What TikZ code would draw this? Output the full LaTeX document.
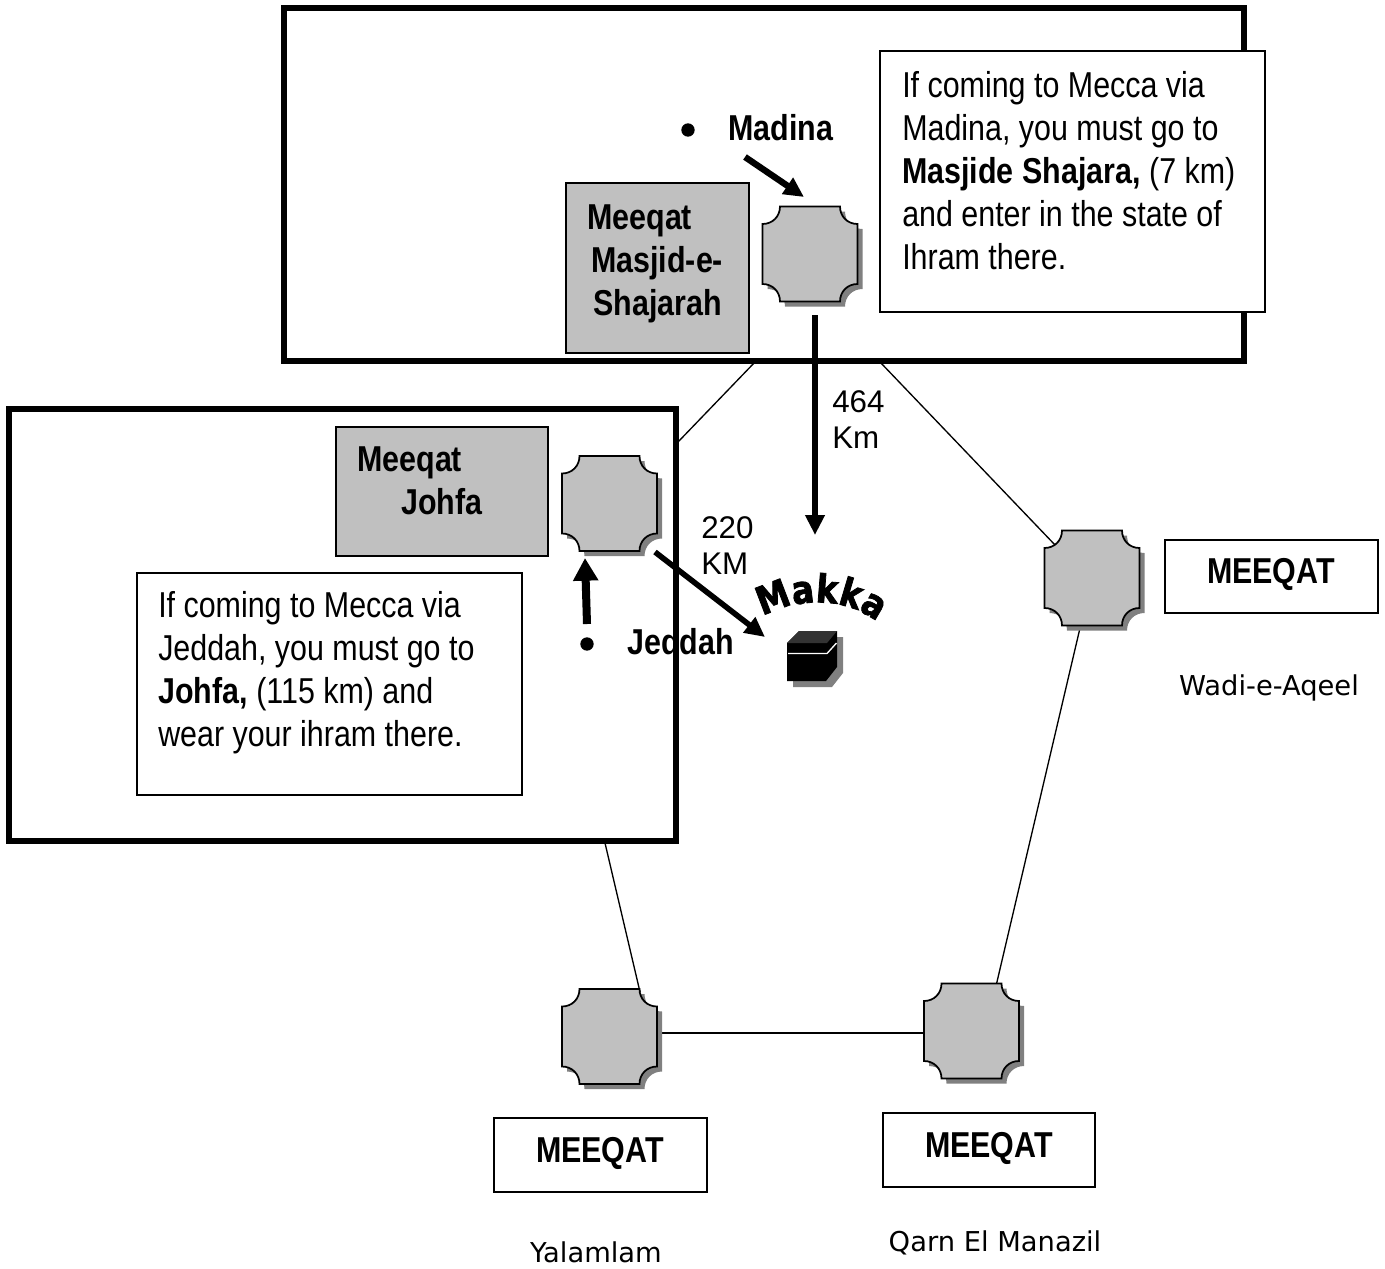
\documentclass[tikz,border=0pt]{standalone}
\usepackage{fontspec}
\setmainfont{Liberation Sans}
\newfontfamily\narrowfont[FakeStretch=0.845]{Liberation Sans}
\newfontfamily\verdfont{DejaVu Sans}
\newfontfamily\makkafont[FakeBold=2,FakeStretch=0.85]{DejaVu Sans Bold}
\usetikzlibrary{arrows.meta,fit,decorations.text}
\definecolor{boxgray}{HTML}{C0C0C0}
\definecolor{shadowgray}{HTML}{808080}
\tikzset{
  x=0.75pt,y=-0.75pt,
  frame/.style={draw=black,line width=4.5pt,inner sep=0pt,sharp corners},
  framefill/.style={fill=white,inner sep=0pt},
  whitebox/.style={draw=black,fill=white,line width=1.1pt,inner sep=0pt},
  graybox/.style={draw=black,fill=boxgray,line width=1.1pt,inner sep=0pt},
  thin connector/.style={draw=black,line width=1pt},
  heavy arrow/.style={draw=black,line width=4.2pt,-{Triangle[length=15pt,width=14pt]}},
  thick arrow/.style={draw=black,line width=6pt,-{Triangle[length=17pt,width=18pt]}},
  big text/.style={font=\narrowfont\fontsize{27}{32.25}\selectfont,align=left,inner sep=0pt,text=black},
  bold label/.style={font=\narrowfont\bfseries\fontsize{27}{32.25}\selectfont,align=left,inner sep=0pt,text=black},
  km text/.style={font=\fontsize{23.5}{27}\selectfont,align=left,inner sep=0pt,text=black},
  place text/.style={font=\verdfont\fontsize{20.5}{24}\selectfont,inner sep=0pt,text=black},
  dot/.style={circle,fill=black,inner sep=0pt,minimum size=10pt},
}
\newcommand{\pxbox}[6]{%
  \coordinate (#1-a) at (#3,#4);\coordinate (#1-b) at (#5,#6);
  \node[#2,fit=(#1-a)(#1-b)] (#1) {};}
\newcommand{\plaque}[3]{%
  \begin{scope}[shift={(#2,#3)}]
    \def\plaquepath{(-47.5,-30) .. controls (-37.5,-30) and (-30,-37.5) .. (-30,-47.5)
      -- (30,-47.5) .. controls (30,-37.5) and (37.5,-30) .. (47.5,-30)
      -- (47.5,30) .. controls (37.5,30) and (30,37.5) .. (30,47.5)
      -- (-30,47.5) .. controls (-30,37.5) and (-37.5,30) .. (-47.5,30) -- cycle}
    \fill[shadowgray,shift={(5,5)}] \plaquepath;
    \draw[fill=boxgray,line width=1.3pt] \plaquepath;
    \node[circle,inner sep=0pt,minimum size=71.25pt] (#1) at (0,0) {};
  \end{scope}}
\begin{document}
\begin{tikzpicture}
\useasboundingbox (0,0) rectangle (1385,1268);
% ends of the connectors
\coordinate (mL) at (755,362);
\coordinate (mR) at (880,362);
\coordinate (jT) at (678,442);
\coordinate (jB) at (605,843);
\coordinate (wadiT) at (1056,546);
\coordinate (wadiB) at (1080,628);
\coordinate (qarnT) at (996,986);
\coordinate (yalT) at (640,992);
\coordinate (yalR) at (657,1033);
\coordinate (qarL) at (924,1033);
\draw[thin connector] (mL) -- (jT);
\draw[thin connector] (mR) -- (wadiT);
\draw[thin connector] (wadiB) -- (qarnT);
\draw[thin connector] (jB) -- (yalT);
\draw[thin connector] (yalR) -- (qarL);
% frames: fill
\pxbox{topfill}{framefill}{284}{8}{1244}{361}
\pxbox{leftfill}{framefill}{9}{409}{676}{841}
\node[bold label,anchor=base west] (jeddah) at (627,654) {Jeddah};
% frames: outline
\pxbox{topframe}{frame}{284}{8}{1244}{361}
\pxbox{leftframe}{frame}{9}{409}{676}{841}
% boxes
\pxbox{infotop}{whitebox}{880}{51}{1265}{312}
\pxbox{infoleft}{whitebox}{137}{573}{522}{795}
\pxbox{graymad}{graybox}{566}{183}{749}{353}
\pxbox{grayjoh}{graybox}{336}{427}{548}{556}
\pxbox{mq1}{whitebox}{1165}{540}{1378}{613}
\pxbox{mq2}{whitebox}{494}{1118}{707}{1192}
\pxbox{mq3}{whitebox}{883}{1113}{1095}{1187}
% plaques
\plaque{pmad}{810}{254}
\plaque{pjoh}{609.5}{503.5}
\plaque{pwad}{1092}{578}
\plaque{pqar}{971.5}{1031}
\plaque{pyal}{609.5}{1036.5}
% text
\node[big text,anchor=north west] (t1) at (902,71) {If coming to Mecca via\\Madina, you must go to\\\textbf{Masjide Shajara,} (7 km)\\and enter in the state of\\Ihram there.};
\node[big text,anchor=north west] (t2) at (158,591) {If coming to Mecca via\\Jeddah, you must go to\\\textbf{Johfa,} (115 km) and\\wear your ihram there.};
\node[bold label,anchor=north west] (t3) at (587,204) {Meeqat\\\hspace*{3pt}Masjid-e-\\\hspace*{4.5pt}Shajarah};
\node[bold label,anchor=north west] (t4) at (357,446) {Meeqat\\\hspace*{33pt}Johfa};
\node[bold label] (l1) at (1271,574) {MEEQAT};
\node[bold label] (l2) at (600,1153) {MEEQAT};
\node[bold label] (l3) at (989,1148) {MEEQAT};
\node[bold label,anchor=base west] (madina) at (728,140) {Madina};
\node[dot] (dmad) at (688,130) {};
\node[dot] (djed) at (587,644) {};
\node[km text,anchor=north west] (k1) at (832,390) {464\\Km};
\node[km text,anchor=north west] (k2) at (701,516) {220\\KM};
\node[place text] (p1) at (1269,688) {Wadi-e-Aqeel};
\node[place text] (p2) at (596,1252) {Yalamlam};
\node[place text] (p3) at (995,1243) {Qarn El Manazil};
% kaaba
\coordinate (kaaba) at (812,656);
\fill[shadowgray,shift={(6,6)}] (787,643) -- (799,631) -- (837,631) -- (837,667) -- (826,681) -- (787,681) -- cycle;
\fill[black] (787,643) -- (799,631) -- (837,631) -- (837,667) -- (826,681) -- (787,681) -- cycle;
\fill[black!80] (787,643) -- (799,631) -- (837,631) -- (827,643) -- cycle;
\draw[white,line width=1pt] (788,653.5) -- (827,653.5) -- (836.5,643);
% makka
\path[decorate,decoration={text along path,text align=center,
  text={|\makkafont\fontsize{29}{29}\selectfont|Makka}}]
  (755,622) .. controls (790,596) and (850,594) .. (884,628);
% arrows
\coordinate (a1s) at (745,157);
\coordinate (a1e) at (804,197);
\coordinate (a2s) at (815,315);
\coordinate (a2e) at (815,535);
\coordinate (a3s) at (655,552);
\coordinate (a3e) at (765,637);
\coordinate (a4s) at (587,624);
\coordinate (a4e) at (585,558);
\draw[heavy arrow,line width=4.8pt] (a1s) -- (a1e);
\draw[heavy arrow] (a2s) -- (a2e);
\draw[heavy arrow] (a3s) -- (a3e);
\draw[thick arrow] (a4s) -- (a4e);
\end{tikzpicture}
\end{document}
